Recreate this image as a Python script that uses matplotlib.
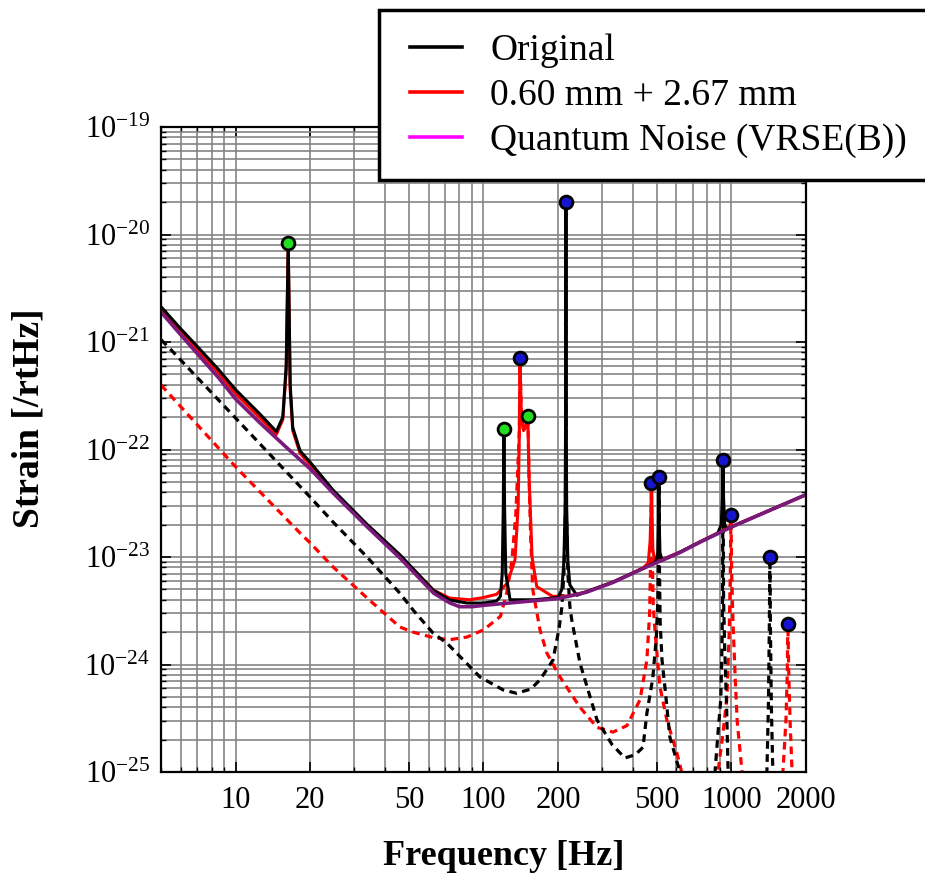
import matplotlib
matplotlib.use("Agg")
import matplotlib.pyplot as plt
from matplotlib.lines import Line2D
from matplotlib.patches import Rectangle
from matplotlib.ticker import LogLocator, NullFormatter

plt.rcParams["font.family"] = ["Liberation Serif", "DejaVu Serif"]
plt.rcParams["mathtext.fontset"] = "stix"

# quantum noise (VRSE(B))
q_f = [5, 6, 7, 8.5, 10, 12.5, 16, 20, 24.7, 34, 46, 63, 73, 80, 90, 100, 130, 200,
       260, 333, 456, 620, 750, 1000, 1500, 2000]
q_s = [1.9e-21, 1.17e-21, 7.8e-22, 4.7e-22, 2.95e-22, 1.78e-22, 1.05e-22, 6.6e-23,
       3.95e-23, 1.9e-23, 9.8e-24, 4.6e-24, 3.75e-24, 3.45e-24, 3.45e-24, 3.55e-24,
       3.75e-24, 4.1e-24, 4.7e-24, 5.8e-24, 8.1e-24, 1.1e-23, 1.38e-23, 1.9e-23,
       2.85e-23, 3.8e-23]

# original suspension: total noise
orig_f = [5, 6, 7, 8.5, 10, 12.5, 14.6, 15.5, 16.0, 16.3, 16.6, 17.0, 18.2, 20, 24.7,
          34, 46, 62.6, 73, 86, 100, 113, 117, 119, 120.2, 120.9, 121.6, 123, 128, 160,
          200, 207, 211, 213.5, 214.6, 215, 215.4, 216.5, 219, 223, 238, 260, 333, 456,
          495, 505, 508, 510, 512, 515, 525, 620, 750, 880, 910, 920, 925, 930, 940,
          960, 1000, 1500, 2000]
orig_s = [2.13e-21, 1.33e-21, 9.1e-22, 5.6e-22, 3.6e-22, 2.15e-22, 1.47e-22, 2.0e-22,
          6e-22, 8.3e-21, 4e-22, 1.6e-22, 9.7e-23, 7.6e-23, 4.2e-23, 2.0e-23, 1.05e-23,
          4.93e-24, 3.98e-24, 3.73e-24, 3.73e-24, 3.9e-24, 4.3e-24, 7e-24, 3e-23,
          1.55e-22, 3e-23, 7e-24, 4e-24, 4.0e-24, 4.2e-24, 5e-24, 9e-24, 3e-23, 3e-22,
          2e-20, 3e-22, 3e-23, 9e-24, 5.5e-24, 4.4e-24, 4.75e-24, 5.85e-24, 8.15e-24,
          9e-24, 1.1e-23, 2e-23, 5.5e-23, 2e-23, 1.1e-23, 9.3e-24, 1.11e-23, 1.39e-23,
          1.65e-23, 2e-23, 3.5e-23, 8e-23, 3.5e-23, 2e-23, 1.82e-23, 1.9e-23, 2.86e-23,
          3.8e-23]

# original suspension: thermal noise only
orig_th_f = [5, 5.4, 10, 20, 24.7, 33.9, 46, 52, 62.6, 71.2, 96.8, 120, 136, 155, 169,
             190.7, 202, 207, 211, 214, 214.7, 215, 215.3, 216, 219, 223, 227, 245, 287,
             330, 372, 410, 440, 456, 482, 498, 505, 508, 510, 512, 516, 525, 540, 565,
             620, 700, 800, 859, 883, 906, 916, 921, 925, 930, 940, 955, 962, 970, 1100,
             1350, 1391, 1410, 1422, 1430, 1438, 1450, 1470, 1600, 2000]
orig_th_s = [1.05e-21, 8.8e-22, 1.96e-22, 3.6e-23, 2.12e-23, 1.0e-23, 4.6e-24, 3.21e-24,
             1.96e-24, 1.58e-24, 7.65e-25, 5.8e-25, 5.4e-25, 5.9e-25, 7.2e-25, 1.1e-24,
             2.2e-24, 3.4e-24, 7e-24, 2.5e-23, 1e-22, 2e-20, 1e-22, 2.5e-23, 7e-24,
             3.5e-24, 2.6e-24, 1.03e-24, 3.05e-25, 1.8e-25, 1.35e-25, 1.45e-25, 1.7e-25,
             3.5e-25, 7.5e-25, 1.8e-24, 4e-24, 1e-23, 5.5e-23, 1e-23, 2.5e-24, 1.1e-24,
             6e-25, 2.1e-25, 1e-25, 4e-26, 3e-26, 1e-25, 2.3e-25, 4.7e-25, 1.4e-24, 4e-24,
             8e-23, 4e-24, 1.4e-24, 4.7e-25, 2.3e-25, 1e-25, 3e-26, 3e-26, 1e-25, 4e-25,
             2e-24, 1e-23, 2e-24, 4e-25, 1e-25, 3e-26, 3e-26]

# 0.60 mm + 2.67 mm fibres: total noise
mod_f = [5, 6, 7, 8.5, 10, 12.5, 14.6, 15.5, 16.0, 16.3, 16.6, 17.0, 18.2, 20, 24.7, 34,
         46, 63, 73, 88, 100, 113, 124.6, 134, 138, 139.5, 140.3, 142, 145, 148, 151,
         152.5, 157, 164, 190, 223, 260, 333, 440, 462, 470, 473.5, 476, 478.5, 482, 490,
         620, 750, 980, 990, 996, 1002, 1015, 1500, 2000]
mod_s = [2.0e-21, 1.25e-21, 8.5e-22, 5.2e-22, 3.3e-22, 1.98e-22, 1.38e-22, 1.9e-22,
         5.5e-22, 8.0e-21, 3.6e-22, 1.5e-22, 9.2e-23, 7.2e-23, 4.1e-23, 1.95e-23,
         1.02e-23, 4.9e-24, 4.15e-24, 4.0e-24, 4.2e-24, 4.5e-24, 5.7e-24, 9.4e-24, 3e-23,
         1.5e-22, 7.1e-22, 2.2e-22, 1.5e-22, 1.6e-22, 2.05e-22, 6e-23, 1.0e-23, 5.3e-24,
         4.3e-24, 4.35e-24, 4.75e-24, 5.85e-24, 7.9e-24, 8.8e-24, 1.4e-23, 2.5e-23,
         4.9e-23, 2.5e-23, 1.2e-23, 8.9e-24, 1.11e-23, 1.39e-23, 1.9e-23, 2.0e-23,
         2.46e-23, 2.0e-23, 1.95e-23, 2.86e-23, 3.8e-23]

# 0.60 mm + 2.67 mm fibres: thermal noise only
mod_th_f = [5, 10, 18.2, 20, 24.7, 33.9, 46, 52, 62.6, 73, 85.8, 100, 117, 124, 130, 135,
            138, 139.5, 140.3, 142, 145, 148, 151, 152.5, 155, 158, 169, 180, 203.6,
            245, 287, 333, 379, 428, 456, 468, 473, 476, 479, 484, 494, 515, 550, 603,
            630, 700, 850, 883, 925, 960, 980, 990, 996, 1003, 1015, 1035, 1055, 1104,
            1300, 1614, 1660, 1680, 1690, 1705, 1725, 1757, 2000]
mod_th_s = [3.98e-22, 6.9e-23, 1.67e-23, 1.35e-23, 8.1e-24, 4.16e-24, 2.23e-24, 2.0e-24,
            1.78e-24, 1.7e-24, 1.8e-24, 2.1e-24, 2.8e-24, 4.6e-24, 9e-24, 2.5e-23, 8e-23,
            1.5e-22, 7.1e-22, 2.2e-22, 1.5e-22, 1.6e-22, 2.05e-22, 6e-23, 1.5e-23, 5e-24,
            2.1e-24, 1.28e-24, 7.65e-25, 4.0e-25, 2.6e-25, 2.35e-25, 2.7e-25, 4.7e-25,
            1.1e-24, 3e-24, 1.2e-23, 4.9e-23, 1.2e-23, 3.5e-24, 1.8e-24, 6.2e-25, 3e-25,
            1.5e-25, 1e-25, 4e-26, 4e-26, 1e-25, 2.3e-25, 5e-25, 2e-24, 7e-24, 2.46e-23,
            7e-24, 2.5e-24, 8e-25, 3e-25, 1e-25, 3e-26, 1e-25, 3e-25, 8e-25, 2.4e-24,
            8e-25, 3e-25, 1e-25, 3e-26]

# resonance peaks
green_f = [16.3, 120.9, 151]
green_s = [8.3e-21, 1.55e-22, 2.05e-22]
blue_f = [140.3, 215, 476, 510, 925, 996, 1430, 1690]
blue_s = [7.1e-22, 2.0e-20, 4.9e-23, 5.5e-23, 8.0e-23, 2.46e-23, 1.0e-23, 2.4e-24]

x_ticks = [10, 20, 50, 100, 200, 500, 1000, 2000]
x_ticklabels = ["10", "20", "50", "100", "200", "500", "1000", "2000"]

fig = plt.figure(figsize=(9.25, 8.75), dpi=100)
ax = fig.add_axes([161 / 925, 103 / 875, 645 / 925, 645 / 875])

dash = (0, (2.4, 1.7))
ax.plot(mod_th_f, mod_th_s, color="red", lw=2.3, ls=dash)
ax.plot(orig_th_f, orig_th_s, color="black", lw=2.3, ls=dash)
ax.plot(mod_f, mod_s, color="red", lw=2.2)
ax.plot(orig_f, orig_s, color="black", lw=2.2)
ax.plot(q_f, q_s, color="#7b1a7b", lw=2.6)

ax.scatter(green_f, green_s, s=85, color="#22dd22", edgecolor="black", lw=2, zorder=5)
ax.scatter(blue_f, blue_s, s=85, color="#1515d0", edgecolor="black", lw=2, zorder=5)

ax.set_xscale("log")
ax.set_yscale("log")
ax.set_xlim(5, 2000)
ax.set_ylim(1e-25, 1e-19)

ax.set_xticks(x_ticks)
ax.set_xticklabels(x_ticklabels)
ax.xaxis.set_minor_locator(LogLocator(base=10, subs=range(2, 10), numticks=20))
ax.xaxis.set_minor_formatter(NullFormatter())
ax.yaxis.set_major_locator(LogLocator(base=10, numticks=20))
ax.yaxis.set_minor_locator(LogLocator(base=10, subs=range(2, 10), numticks=20))
ax.yaxis.set_minor_formatter(NullFormatter())

ax.grid(True, which="both", color="#858585", lw=1.2)
ax.set_axisbelow(True)
ax.tick_params(which="both", direction="in", top=True, right=True, labelsize=22)
ax.tick_params(which="major", length=7, width=1.2)
ax.tick_params(which="minor", length=3.5, width=1)
ax.tick_params(axis="x", pad=10)
ax.tick_params(axis="y", pad=8)
for sp in ax.spines.values():
    sp.set_linewidth(1.6)

ax.set_xlabel("Frequency [Hz]", fontsize=26, fontweight="bold")
ax.set_ylabel("Strain [/rtHz]", fontsize=27, fontweight="bold")
ax.xaxis.set_label_coords(0.532, -0.131)
ax.yaxis.set_label_coords(-0.205, 0.549)
ax.xaxis.label.set_va("center")
ax.yaxis.label.set_va("center")

handles = [Line2D([], [], color="black", lw=2.6),
           Line2D([], [], color="red", lw=2.6),
           Line2D([], [], color="#ff00ff", lw=2.6)]
labels = ["Original", "0.60 mm + 2.67 mm", "Quantum Noise (VRSE(B))"]
fig.legend(handles, labels, loc="upper left", bbox_to_anchor=(391 / 925, 1 - 15 / 875),
           fontsize=27, frameon=False, handlelength=1.4, handletextpad=0.75,
           labelspacing=0.28, borderpad=0.5, borderaxespad=0)
# legend frame, running off the right edge
fig.patches.append(Rectangle((379 / 925, 1 - 180 / 875), 560 / 925, 170 / 875,
                             transform=fig.transFigure, facecolor="white",
                             edgecolor="black", lw=2.5, zorder=3))

fig.savefig("out.png", dpi=100)
